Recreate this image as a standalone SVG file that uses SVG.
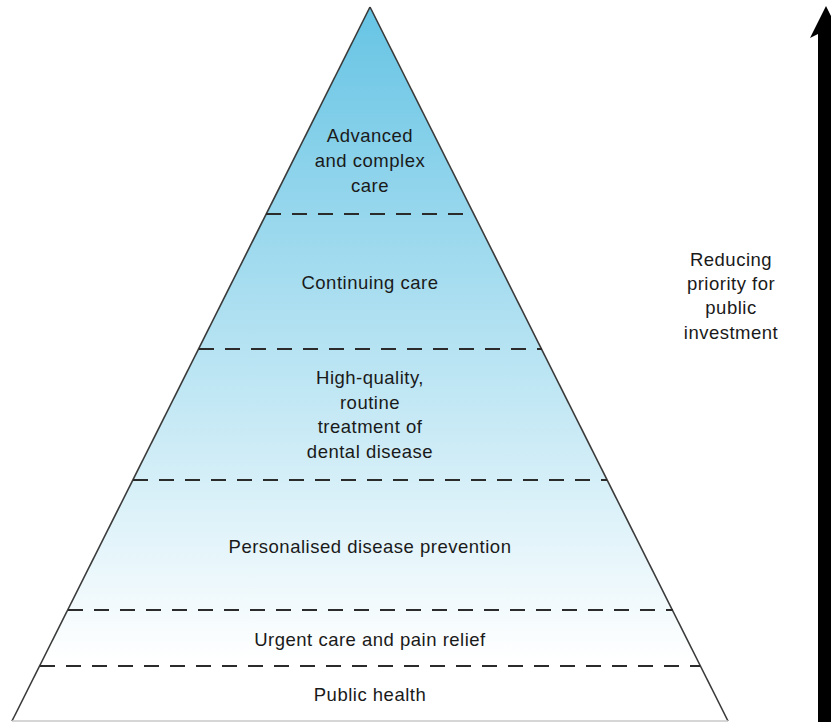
<svg xmlns="http://www.w3.org/2000/svg" width="831" height="722" viewBox="0 0 831 722">
<style>
  text { font-family: "Liberation Sans", Arial, sans-serif; font-size: 18.5px; fill: #1a1a1a; text-anchor: middle; letter-spacing: 0.5px; }
  .div { stroke: #2b2b2b; stroke-width: 2; stroke-dasharray: 15 11; fill: none; }
</style>
<defs>
  <linearGradient id="grad" gradientUnits="userSpaceOnUse" x1="0" y1="7" x2="0" y2="660">
    <stop offset="0" stop-color="#66c4e4"/>
    <stop offset="1" stop-color="#ffffff"/>
  </linearGradient>
</defs>
<rect width="831" height="722" fill="#ffffff"/>
<g id="pyramid">
  <polygon points="370,7 12,721 728,721" fill="url(#grad)" stroke="none"/>
  <line x1="370" y1="7" x2="12" y2="721" stroke="#3a3a3a" stroke-width="1.6"/>
  <line x1="370" y1="7" x2="728" y2="721" stroke="#3a3a3a" stroke-width="1.6"/>
  <line x1="12" y1="721" x2="728" y2="721" stroke="#c8c8c8" stroke-width="1.5"/>
</g>
<g id="dividers">
  <line class="div" x1="266" y1="214" x2="474" y2="214"/>
  <line class="div" x1="199" y1="349" x2="542" y2="349"/>
  <line class="div" x1="133" y1="480" x2="607" y2="480"/>
  <line class="div" x1="68" y1="610" x2="673" y2="610"/>
  <line class="div" x1="40" y1="666" x2="700" y2="666"/>
</g>
<g id="tier-advanced">
  <text x="370" y="142">Advanced</text>
  <text x="370" y="167">and complex</text>
  <text x="370" y="192">care</text>
</g>
<g id="tier-continuing">
  <text x="370" y="289">Continuing care</text>
</g>
<g id="tier-routine">
  <text x="370" y="384">High-quality,</text>
  <text x="370" y="408.5">routine</text>
  <text x="370" y="433">treatment of</text>
  <text x="370" y="458">dental disease</text>
</g>
<g id="tier-prevention">
  <text x="370" y="553">Personalised disease prevention</text>
</g>
<g id="tier-urgent">
  <text x="370" y="645.5">Urgent care and pain relief</text>
</g>
<g id="tier-public">
  <text x="370" y="701">Public health</text>
</g>
<g id="priority-label">
  <text x="731" y="266">Reducing</text>
  <text x="731" y="290">priority for</text>
  <text x="731" y="314">public</text>
  <text x="731" y="339">investment</text>
</g>
<g id="connectors">
  <polygon points="826,6 810,38 818,34 818,722 834,722 834,34 842,38" fill="#000000"/>
</g>
</svg>
